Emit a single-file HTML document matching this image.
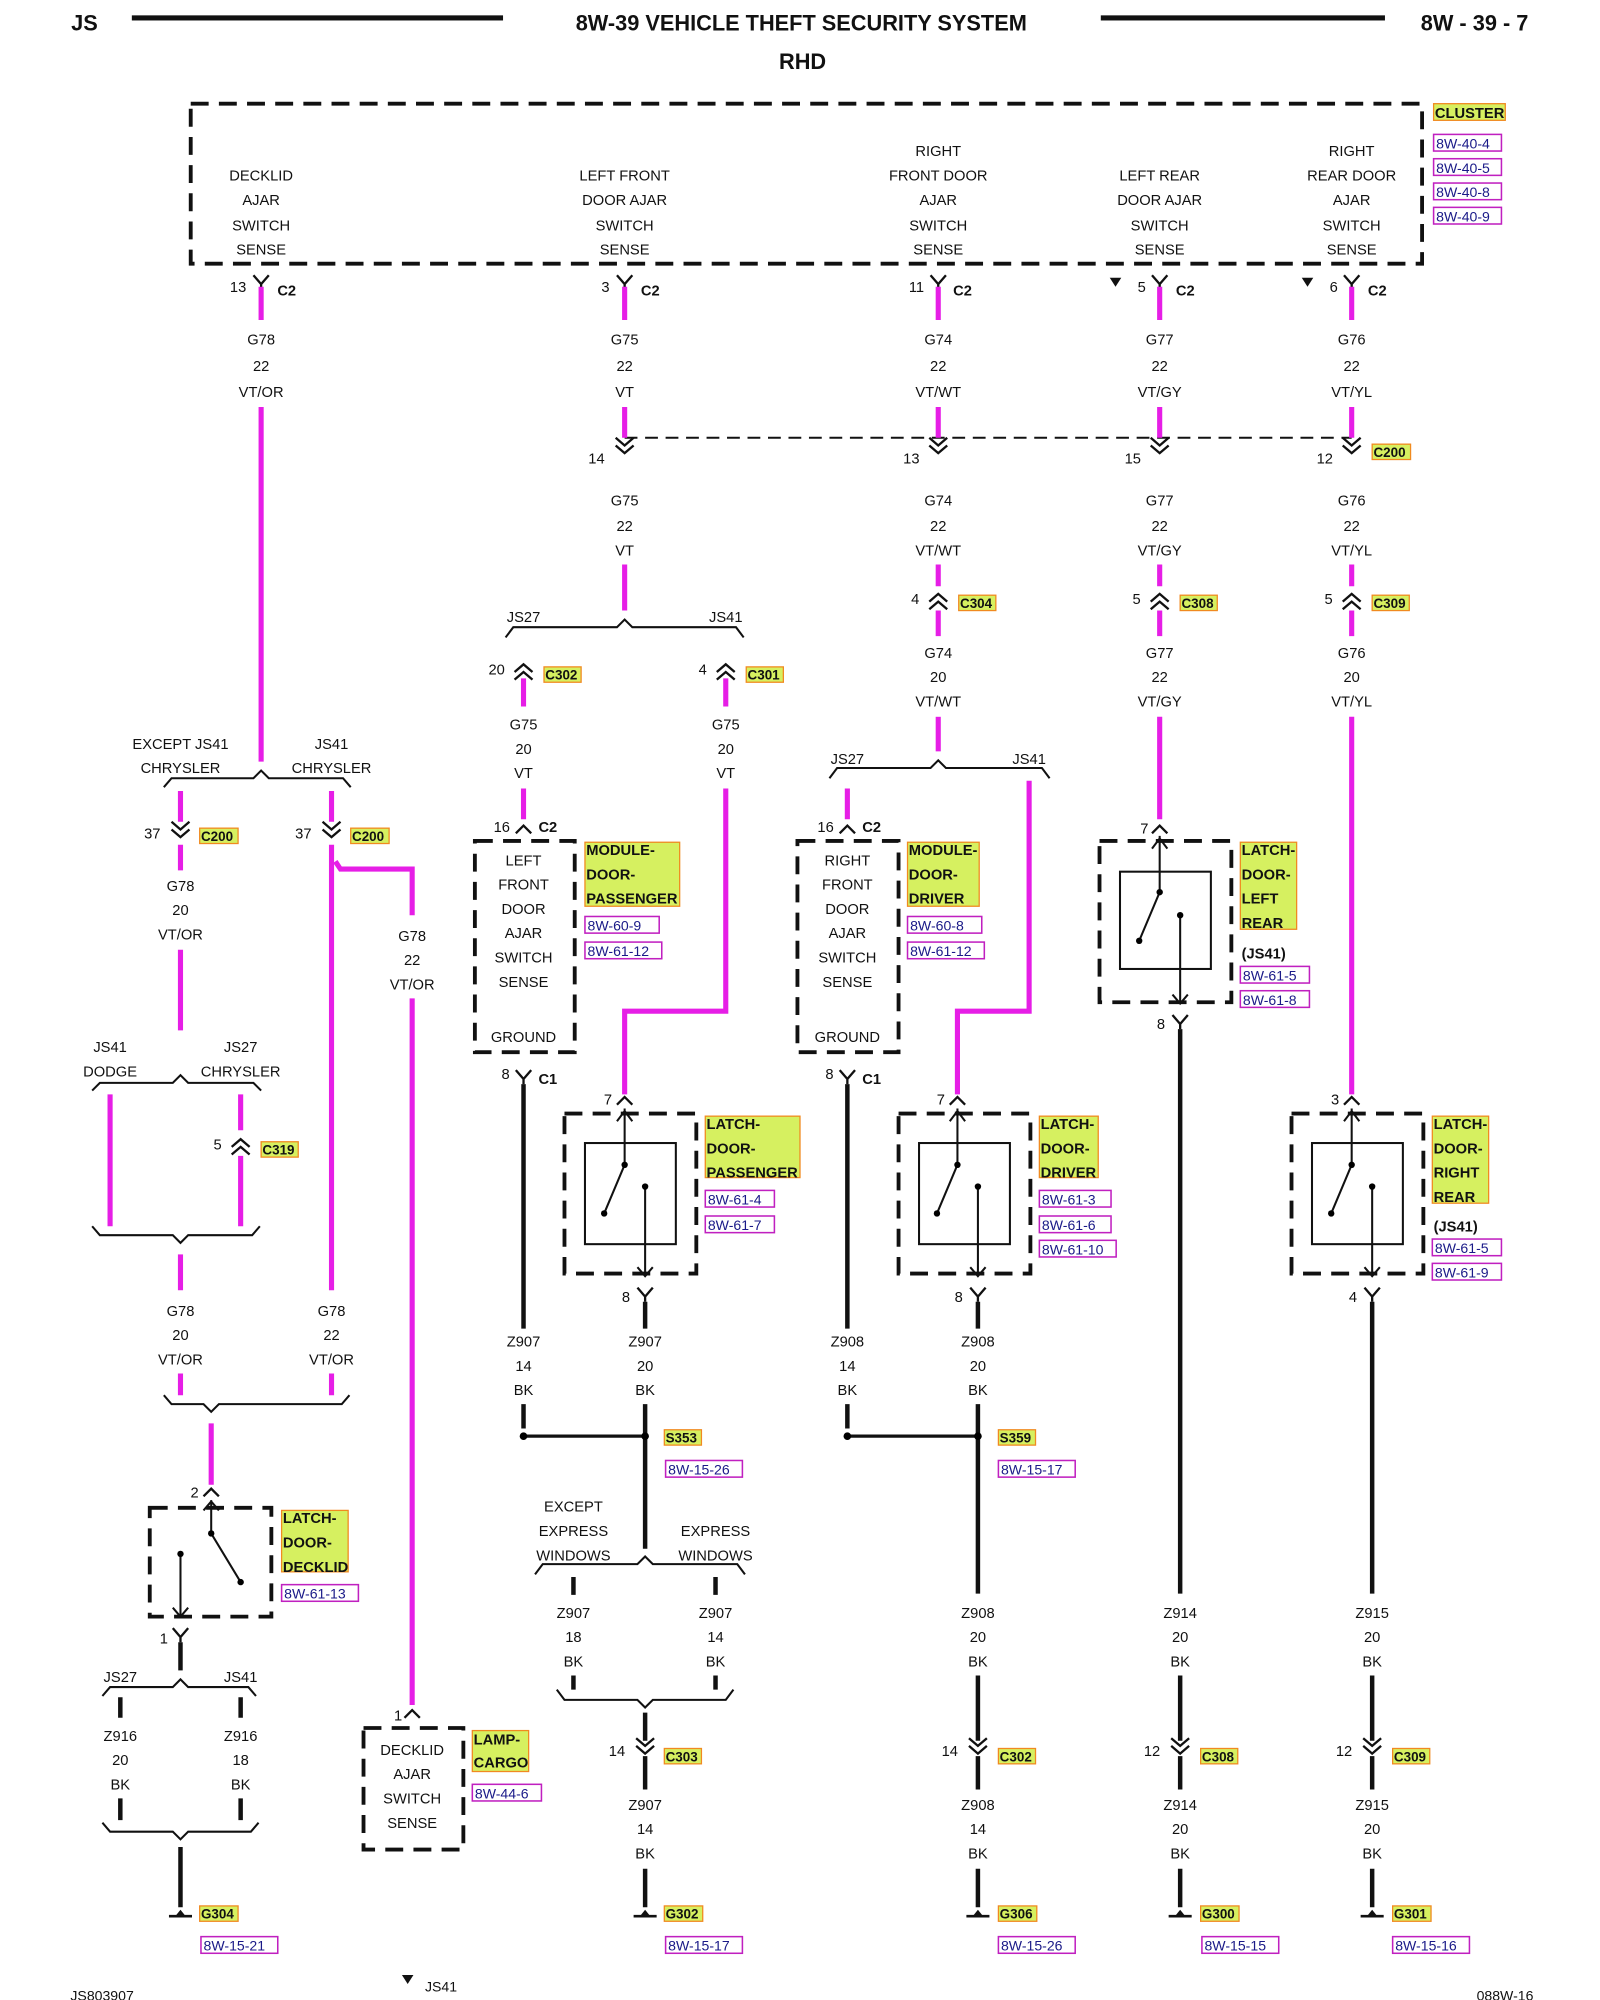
<!DOCTYPE html>
<html><head><meta charset="utf-8"><style>
html,body{margin:0;padding:0;background:#fff}
svg{display:block}
text{font-family:"Liberation Sans",sans-serif;font-size:11.5px;fill:#111;text-anchor:middle}
.b{font-weight:bold}
.l{text-anchor:start}
.t{font-weight:bold;font-size:11.5px;text-anchor:start}
.r{fill:#1a1a88;font-size:11px;text-anchor:start}
.m{stroke:#e61ee6;stroke-width:4;fill:none}
.k{stroke:#111;stroke-width:3.5;fill:none}
.s{stroke:#111;stroke-width:1.6;fill:none}
.d{stroke:#111;stroke-width:3;fill:none;stroke-dasharray:14,8}
.y{fill:#d6f060;stroke:#f08a20;stroke-width:1}
.rb{fill:none;stroke:#c020c0;stroke-width:1.2}
</style></head><body>
<svg width="1600" height="2000" viewBox="0 0 1250 1562.5" preserveAspectRatio="none" xmlns="http://www.w3.org/2000/svg">
<defs>
<path id="dn" d="M-7,-9 L0,-3 L7,-9 M-7,-3 L0,3 L7,-3" stroke="#111" stroke-width="1.8" fill="none"/>
<path id="up" d="M-7,9 L0,3 L7,9 M-7,3 L0,-3 L7,3" stroke="#111" stroke-width="1.8" fill="none"/>
<path id="py" d="M-6,-7 L0,0 L6,-7 M0,0 V4" stroke="#111" stroke-width="1.8" fill="none"/>
<path id="pu" d="M-6,6 L0,0 L6,6" stroke="#111" stroke-width="1.8" fill="none"/>
<g id="gnd"><path d="M-9,0 H9" stroke="#111" stroke-width="2"/><path d="M-4,0 L0,-5 L4,0 Z" fill="#111"/></g>
</defs>

<!-- header -->
<text x="66" y="24" class="b" style="font-size:17px">JS</text>
<rect x="103" y="12" width="290" height="4" fill="#111"/>
<text x="626" y="24" class="b" style="font-size:17px">8W-39 VEHICLE THEFT SECURITY SYSTEM</text>
<rect x="860" y="12" width="222" height="4" fill="#111"/>
<text x="1152" y="24" class="b" style="font-size:17px">8W - 39 - 7</text>
<text x="627" y="54" class="b" style="font-size:17px">RHD</text>

<!-- cluster -->
<rect x="149" y="81" width="962" height="125" class="d"/>
<rect x="1120" y="81" width="56" height="13" class="y"/><text x="1121" y="92" class="t">CLUSTER</text>
<rect x="1120" y="105" width="53" height="13" class="rb"/><text x="1122" y="116" class="r">8W-40-4</text>
<rect x="1120" y="124" width="53" height="13" class="rb"/><text x="1122" y="135" class="r">8W-40-5</text>
<rect x="1120" y="143" width="53" height="13" class="rb"/><text x="1122" y="154" class="r">8W-40-8</text>
<rect x="1120" y="162" width="53" height="13" class="rb"/><text x="1122" y="173" class="r">8W-40-9</text>
<text x="204" y="141">DECKLID</text><text x="204" y="160">AJAR</text><text x="204" y="180">SWITCH</text><text x="204" y="199">SENSE</text>
<text x="488" y="141">LEFT FRONT</text><text x="488" y="160">DOOR AJAR</text><text x="488" y="180">SWITCH</text><text x="488" y="199">SENSE</text>
<text x="733" y="122">RIGHT</text><text x="733" y="141">FRONT DOOR</text><text x="733" y="160">AJAR</text><text x="733" y="180">SWITCH</text><text x="733" y="199">SENSE</text>
<text x="906" y="141">LEFT REAR</text><text x="906" y="160">DOOR AJAR</text><text x="906" y="180">SWITCH</text><text x="906" y="199">SENSE</text>
<text x="1056" y="122">RIGHT</text><text x="1056" y="141">REAR DOOR</text><text x="1056" y="160">AJAR</text><text x="1056" y="180">SWITCH</text><text x="1056" y="199">SENSE</text>

<!-- top pins -->
<use href="#py" x="204" y="222"/><text x="186" y="228">13</text><text x="224" y="231" class="b">C2</text>
<use href="#py" x="488" y="222"/><text x="473" y="228">3</text><text x="508" y="231" class="b">C2</text>
<use href="#py" x="733" y="222"/><text x="716" y="228">11</text><text x="752" y="231" class="b">C2</text>
<use href="#py" x="906" y="222"/><text x="892" y="228">5</text><text x="926" y="231" class="b">C2</text><path d="M867,217 h9 l-4.5,7z" fill="#111"/>
<use href="#py" x="1056" y="222"/><text x="1042" y="228">6</text><text x="1076" y="231" class="b">C2</text><path d="M1017,217 h9 l-4.5,7z" fill="#111"/>
<path class="m" d="M204,224V250 M488,224V250 M733,224V250 M906,224V250 M1056,224V250"/>
<g>
<text x="204" y="269">G78</text><text x="204" y="290">22</text><text x="204" y="310">VT/OR</text>
<text x="488" y="269">G75</text><text x="488" y="290">22</text><text x="488" y="310">VT</text>
<text x="733" y="269">G74</text><text x="733" y="290">22</text><text x="733" y="310">VT/WT</text>
<text x="906" y="269">G77</text><text x="906" y="290">22</text><text x="906" y="310">VT/GY</text>
<text x="1056" y="269">G76</text><text x="1056" y="290">22</text><text x="1056" y="310">VT/YL</text>
</g>

<!-- C200 row -->
<path d="M488,342 H1056" stroke="#111" stroke-width="1.6" stroke-dasharray="10,6"/>
<path class="m" d="M488,318V342 M733,318V342 M906,318V342 M1056,318V342"/>
<use href="#dn" x="488" y="351"/><text x="466" y="362">14</text>
<use href="#dn" x="733" y="351"/><text x="712" y="362">13</text>
<use href="#dn" x="906" y="351"/><text x="885" y="362">15</text>
<use href="#dn" x="1056" y="351"/><text x="1035" y="362">12</text>
<rect x="1072" y="347" width="30" height="12" class="y"/><text x="1073" y="357" class="t" style="font-size:10.5px">C200</text>
<text x="488" y="395">G75</text><text x="488" y="415">22</text><text x="488" y="434">VT</text>
<text x="733" y="395">G74</text><text x="733" y="415">22</text><text x="733" y="434">VT/WT</text>
<text x="906" y="395">G77</text><text x="906" y="415">22</text><text x="906" y="434">VT/GY</text>
<text x="1056" y="395">G76</text><text x="1056" y="415">22</text><text x="1056" y="434">VT/YL</text>
<path class="m" d="M488,441V477 M733,441V458 M906,441V458 M1056,441V458"/>

<!-- C304/C308/C309 -->
<use href="#up" x="733" y="467"/><text x="715" y="472">4</text><rect x="749" y="465" width="29" height="12" class="y"/><text x="750" y="475" class="t" style="font-size:10.5px">C304</text>
<use href="#up" x="906" y="467"/><text x="888" y="472">5</text><rect x="922" y="465" width="29" height="12" class="y"/><text x="923" y="475" class="t" style="font-size:10.5px">C308</text>
<use href="#up" x="1056" y="467"/><text x="1038" y="472">5</text><rect x="1072" y="465" width="29" height="12" class="y"/><text x="1073" y="475" class="t" style="font-size:10.5px">C309</text>
<path class="m" d="M733,477V497 M906,477V497 M1056,477V497"/>
<text x="733" y="514">G74</text><text x="733" y="533">20</text><text x="733" y="552">VT/WT</text>
<text x="906" y="514">G77</text><text x="906" y="533">22</text><text x="906" y="552">VT/GY</text>
<text x="1056" y="514">G76</text><text x="1056" y="533">20</text><text x="1056" y="552">VT/YL</text>

<!-- G75 branch -->
<path class="s" d="M395,498 L401,490 H482 L488,484 L494,490 H575 L581,498"/>
<text x="409" y="486">JS27</text><text x="567" y="486">JS41</text>
<use href="#up" x="409" y="522"/><text x="388" y="527">20</text><rect x="425" y="521" width="29" height="12" class="y"/><text x="426" y="531" class="t" style="font-size:10.5px">C302</text>
<use href="#up" x="567" y="522"/><text x="549" y="527">4</text><rect x="583" y="521" width="29" height="12" class="y"/><text x="584" y="531" class="t" style="font-size:10.5px">C301</text>
<path class="m" d="M409,530V552 M567,530V552"/>
<text x="409" y="570">G75</text><text x="409" y="589">20</text><text x="409" y="608">VT</text>
<text x="567" y="570">G75</text><text x="567" y="589">20</text><text x="567" y="608">VT</text>
<path class="m" d="M409,616V640 M567,616V790 H488 V855"/>

<!-- G74 branch -->
<path class="m" d="M733,560V587"/>
<path class="s" d="M648,608 L654,600 H727 L733,594 L739,600 H814 L820,608"/>
<text x="662" y="597">JS27</text><text x="804" y="597">JS41</text>
<path class="m" d="M662,616V640 M804,610V790 H748 V855"/>
<path class="m" d="M906,560V640 M1056,560V855"/>

<!-- module door passenger -->
<use href="#pu" x="409" y="645"/><text x="392" y="650">16</text><text x="428" y="650" class="b">C2</text>
<rect x="371" y="657" width="78" height="165" class="d"/>
<text x="409" y="676">LEFT</text><text x="409" y="695">FRONT</text><text x="409" y="714">DOOR</text><text x="409" y="733">AJAR</text><text x="409" y="752">SWITCH</text><text x="409" y="771">SENSE</text><text x="409" y="814">GROUND</text>
<rect x="457" y="658" width="74" height="50" class="y"/><text x="458" y="668" class="t">MODULE-</text><text x="458" y="687" class="t">DOOR-</text><text x="458" y="706" class="t">PASSENGER</text>
<rect x="457" y="716" width="58" height="13" class="rb"/><text x="459" y="727" class="r">8W-60-9</text>
<rect x="457" y="736" width="60" height="13" class="rb"/><text x="459" y="747" class="r">8W-61-12</text>
<use href="#py" x="409" y="843"/><text x="395" y="843">8</text><text x="428" y="847" class="b">C1</text>

<!-- module door driver -->
<use href="#pu" x="662" y="645"/><text x="645" y="650">16</text><text x="681" y="650" class="b">C2</text>
<rect x="623" y="657" width="79" height="165" class="d"/>
<text x="662" y="676">RIGHT</text><text x="662" y="695">FRONT</text><text x="662" y="714">DOOR</text><text x="662" y="733">AJAR</text><text x="662" y="752">SWITCH</text><text x="662" y="771">SENSE</text><text x="662" y="814">GROUND</text>
<rect x="709" y="658" width="56" height="50" class="y"/><text x="710" y="668" class="t">MODULE-</text><text x="710" y="687" class="t">DOOR-</text><text x="710" y="706" class="t">DRIVER</text>
<rect x="709" y="716" width="58" height="13" class="rb"/><text x="711" y="727" class="r">8W-60-8</text>
<rect x="709" y="736" width="60" height="13" class="rb"/><text x="711" y="747" class="r">8W-61-12</text>
<use href="#py" x="662" y="843"/><text x="648" y="843">8</text><text x="681" y="847" class="b">C1</text>

<!-- latch door passenger -->
<use href="#pu" x="488" y="857"/><text x="475" y="863">7</text>
<rect x="441" y="870" width="103" height="125" class="d"/>
<rect x="457" y="893" width="71" height="79" class="s"/>
<path class="s" d="M488,866 V910 L472,948 M504,927 V997 M482,876 L488,868 L494,876 M498,990 L504,997 L510,990"/>
<circle cx="488" cy="910" r="2.5"/><circle cx="472" cy="948" r="2.5"/><circle cx="504" cy="927" r="2.5"/>
<rect x="551" y="872" width="74" height="48" class="y"/><text x="552" y="882" class="t">LATCH-</text><text x="552" y="901" class="t">DOOR-</text><text x="552" y="920" class="t">PASSENGER</text>
<rect x="551" y="930" width="54" height="13" class="rb"/><text x="553" y="941" class="r">8W-61-4</text>
<rect x="551" y="950" width="54" height="13" class="rb"/><text x="553" y="961" class="r">8W-61-7</text>
<use href="#py" x="504" y="1013"/><text x="489" y="1017">8</text>

<!-- latch door driver -->
<use href="#pu" x="748" y="857"/><text x="735" y="863">7</text>
<rect x="702" y="870" width="103" height="125" class="d"/>
<rect x="718" y="893" width="71" height="79" class="s"/>
<path class="s" d="M748,866 V910 L732,948 M764,927 V997 M742,876 L748,868 L754,876 M758,990 L764,997 L770,990"/>
<circle cx="748" cy="910" r="2.5"/><circle cx="732" cy="948" r="2.5"/><circle cx="764" cy="927" r="2.5"/>
<rect x="812" y="872" width="46" height="48" class="y"/><text x="813" y="882" class="t">LATCH-</text><text x="813" y="901" class="t">DOOR-</text><text x="813" y="920" class="t">DRIVER</text>
<rect x="812" y="930" width="56" height="13" class="rb"/><text x="814" y="941" class="r">8W-61-3</text>
<rect x="812" y="950" width="56" height="13" class="rb"/><text x="814" y="961" class="r">8W-61-6</text>
<rect x="812" y="969" width="60" height="13" class="rb"/><text x="814" y="980" class="r">8W-61-10</text>
<use href="#py" x="764" y="1013"/><text x="749" y="1017">8</text>

<!-- latch door left rear -->
<use href="#pu" x="906" y="645"/><text x="894" y="651">7</text>
<rect x="859" y="657" width="103" height="126" class="d"/>
<rect x="875" y="681" width="71" height="76" class="s"/>
<path class="s" d="M906,653 V697 L890,735 M922,715 V784 M900,663 L906,655 L912,663 M916,777 L922,784 L928,777"/>
<circle cx="906" cy="697" r="2.5"/><circle cx="890" cy="735" r="2.5"/><circle cx="922" cy="715" r="2.5"/>
<rect x="969" y="658" width="44" height="68" class="y"/><text x="970" y="668" class="t">LATCH-</text><text x="970" y="687" class="t">DOOR-</text><text x="970" y="706" class="t">LEFT</text><text x="970" y="725" class="t">REAR</text>
<text x="970" y="749" class="t">(JS41)</text>
<rect x="969" y="755" width="54" height="13" class="rb"/><text x="971" y="766" class="r">8W-61-5</text>
<rect x="969" y="774" width="54" height="13" class="rb"/><text x="971" y="785" class="r">8W-61-8</text>
<use href="#py" x="922" y="800"/><text x="907" y="804">8</text>

<!-- latch door right rear -->
<use href="#pu" x="1056" y="857"/><text x="1043" y="863">3</text>
<rect x="1009" y="870" width="103" height="125" class="d"/>
<rect x="1025" y="893" width="71" height="79" class="s"/>
<path class="s" d="M1056,866 V910 L1040,948 M1072,927 V997 M1050,876 L1056,868 L1062,876 M1066,990 L1072,997 L1078,990"/>
<circle cx="1056" cy="910" r="2.5"/><circle cx="1040" cy="948" r="2.5"/><circle cx="1072" cy="927" r="2.5"/>
<rect x="1119" y="872" width="44" height="68" class="y"/><text x="1120" y="882" class="t">LATCH-</text><text x="1120" y="901" class="t">DOOR-</text><text x="1120" y="920" class="t">RIGHT</text><text x="1120" y="939" class="t">REAR</text>
<text x="1120" y="962" class="t">(JS41)</text>
<rect x="1119" y="968" width="54" height="13" class="rb"/><text x="1121" y="979" class="r">8W-61-5</text>
<rect x="1119" y="987" width="54" height="13" class="rb"/><text x="1121" y="998" class="r">8W-61-9</text>
<use href="#py" x="1072" y="1013"/><text x="1057" y="1017">4</text>

<!-- black wires lower -->
<path class="k" d="M409,847V1038 M504,1017V1038 M662,847V1038 M764,1017V1038 M922,804V1245 M1072,1017V1245"/>
<text x="409" y="1052">Z907</text><text x="409" y="1071">14</text><text x="409" y="1090">BK</text>
<text x="504" y="1052">Z907</text><text x="504" y="1071">20</text><text x="504" y="1090">BK</text>
<text x="662" y="1052">Z908</text><text x="662" y="1071">14</text><text x="662" y="1090">BK</text>
<text x="764" y="1052">Z908</text><text x="764" y="1071">20</text><text x="764" y="1090">BK</text>
<path class="k" d="M409,1097V1116 M662,1097V1116 M504,1097V1210 M764,1097V1245"/>
<path d="M409,1122H504 M662,1122H764" stroke="#111" stroke-width="2.5"/>
<circle cx="409" cy="1122" r="3"/><circle cx="504" cy="1122" r="3"/><circle cx="662" cy="1122" r="3"/><circle cx="764" cy="1122" r="3"/>
<rect x="519" y="1117" width="29" height="12" class="y"/><text x="520" y="1127" class="t" style="font-size:10.5px">S353</text>
<rect x="520" y="1141" width="60" height="13" class="rb"/><text x="522" y="1152" class="r">8W-15-26</text>
<rect x="780" y="1117" width="29" height="12" class="y"/><text x="781" y="1127" class="t" style="font-size:10.5px">S359</text>
<rect x="780" y="1141" width="60" height="13" class="rb"/><text x="782" y="1152" class="r">8W-15-17</text>

<text x="448" y="1181">EXCEPT</text><text x="448" y="1200">EXPRESS</text><text x="448" y="1219">WINDOWS</text>
<text x="559" y="1200">EXPRESS</text><text x="559" y="1219">WINDOWS</text>
<path class="s" d="M418,1230 L424,1222 H498 L504,1216 L510,1222 H576 L582,1230"/>
<path class="k" d="M448,1232V1246 M559,1232V1246"/>
<text x="448" y="1264">Z907</text><text x="448" y="1283">18</text><text x="448" y="1302">BK</text>
<text x="559" y="1264">Z907</text><text x="559" y="1283">14</text><text x="559" y="1302">BK</text>
<path class="k" d="M448,1309V1320 M559,1309V1320"/>
<path class="s" d="M435,1320 L441,1328 H498 L504,1334 L510,1328 H567 L573,1320"/>
<text x="764" y="1264">Z908</text><text x="764" y="1283">20</text><text x="764" y="1302">BK</text>
<text x="922" y="1264">Z914</text><text x="922" y="1283">20</text><text x="922" y="1302">BK</text>
<text x="1072" y="1264">Z915</text><text x="1072" y="1283">20</text><text x="1072" y="1302">BK</text>
<path class="k" d="M504,1338V1360 M764,1309V1360 M922,1309V1360 M1072,1309V1360"/>
<use href="#dn" x="504" y="1367"/><text x="482" y="1372">14</text><rect x="519" y="1366" width="29" height="12" class="y"/><text x="520" y="1376" class="t" style="font-size:10.5px">C303</text>
<use href="#dn" x="764" y="1367"/><text x="742" y="1372">14</text><rect x="780" y="1366" width="29" height="12" class="y"/><text x="781" y="1376" class="t" style="font-size:10.5px">C302</text>
<use href="#dn" x="922" y="1367"/><text x="900" y="1372">12</text><rect x="938" y="1366" width="29" height="12" class="y"/><text x="939" y="1376" class="t" style="font-size:10.5px">C308</text>
<use href="#dn" x="1072" y="1367"/><text x="1050" y="1372">12</text><rect x="1088" y="1366" width="29" height="12" class="y"/><text x="1089" y="1376" class="t" style="font-size:10.5px">C309</text>
<path class="k" d="M504,1372V1398 M764,1372V1398 M922,1372V1398 M1072,1372V1398"/>
<text x="504" y="1414">Z907</text><text x="504" y="1433">14</text><text x="504" y="1452">BK</text>
<text x="764" y="1414">Z908</text><text x="764" y="1433">14</text><text x="764" y="1452">BK</text>
<text x="922" y="1414">Z914</text><text x="922" y="1433">20</text><text x="922" y="1452">BK</text>
<text x="1072" y="1414">Z915</text><text x="1072" y="1433">20</text><text x="1072" y="1452">BK</text>
<path class="k" d="M504,1460V1490 M764,1460V1490 M922,1460V1490 M1072,1460V1490"/>
<use href="#gnd" x="504" y="1497"/><rect x="519" y="1489" width="30" height="12" class="y"/><text x="520" y="1499" class="t" style="font-size:10.5px">G302</text>
<use href="#gnd" x="764" y="1497"/><rect x="780" y="1489" width="30" height="12" class="y"/><text x="781" y="1499" class="t" style="font-size:10.5px">G306</text>
<use href="#gnd" x="922" y="1497"/><rect x="938" y="1489" width="30" height="12" class="y"/><text x="939" y="1499" class="t" style="font-size:10.5px">G300</text>
<use href="#gnd" x="1072" y="1497"/><rect x="1088" y="1489" width="30" height="12" class="y"/><text x="1089" y="1499" class="t" style="font-size:10.5px">G301</text>
<rect x="520" y="1513" width="60" height="13" class="rb"/><text x="522" y="1524" class="r">8W-15-17</text>
<rect x="780" y="1513" width="60" height="13" class="rb"/><text x="782" y="1524" class="r">8W-15-26</text>
<rect x="939" y="1513" width="60" height="13" class="rb"/><text x="941" y="1524" class="r">8W-15-15</text>
<rect x="1088" y="1513" width="60" height="13" class="rb"/><text x="1090" y="1524" class="r">8W-15-16</text>

<!-- left decklid section -->
<path class="m" d="M204,318V595"/>
<text x="141" y="585">EXCEPT JS41</text><text x="141" y="604">CHRYSLER</text>
<text x="259" y="585">JS41</text><text x="259" y="604">CHRYSLER</text>
<path class="s" d="M128,615 L134,608 H198 L204,602 L210,608 H268 L274,615"/>
<path class="m" d="M141,618V642 M141,660V680 M259,618V642 M259,660V1008 M262,673 L266,679 H322 V715"/>
<use href="#dn" x="141" y="651"/><text x="119" y="655">37</text><rect x="156" y="647" width="30" height="12" class="y"/><text x="157" y="657" class="t" style="font-size:10.5px">C200</text>
<use href="#dn" x="259" y="651"/><text x="237" y="655">37</text><rect x="274" y="647" width="30" height="12" class="y"/><text x="275" y="657" class="t" style="font-size:10.5px">C200</text>
<text x="141" y="696">G78</text><text x="141" y="715">20</text><text x="141" y="734">VT/OR</text>
<text x="322" y="735">G78</text><text x="322" y="754">22</text><text x="322" y="773">VT/OR</text>
<path class="m" d="M141,742V805 M322,780V1332"/>
<text x="86" y="822">JS41</text><text x="86" y="841">DODGE</text>
<text x="188" y="822">JS27</text><text x="188" y="841">CHRYSLER</text>
<path class="s" d="M72,852 L78,846 H135 L141,840 L147,846 H198 L204,852"/>
<path class="m" d="M86,855V958 M188,855V883 M188,903V958"/>
<use href="#up" x="188" y="893"/><text x="170" y="898">5</text><rect x="204" y="892" width="29" height="12" class="y"/><text x="205" y="902" class="t" style="font-size:10.5px">C319</text>
<path class="s" d="M72,958 L78,965 H135 L141,971 L147,965 H197 L203,958"/>
<path class="m" d="M141,980V1008"/>
<text x="141" y="1028">G78</text><text x="141" y="1047">20</text><text x="141" y="1066">VT/OR</text>
<text x="259" y="1028">G78</text><text x="259" y="1047">22</text><text x="259" y="1066">VT/OR</text>
<path class="m" d="M141,1073V1090 M259,1073V1090 M165,1112V1160"/>
<path class="s" d="M128,1090 L134,1097 H159 L165,1103 L171,1097 H267 L273,1090"/>
<use href="#pu" x="165" y="1163"/><text x="152" y="1170">2</text>
<rect x="117" y="1178" width="95" height="85" class="d"/>
<path class="s" d="M165,1172 V1198 L188,1236 M141,1214 V1262 M159,1180 L165,1173 L171,1180 M135,1256 L141,1263 L147,1256"/>
<circle cx="165" cy="1198" r="2.5"/><circle cx="188" cy="1236" r="2.5"/><circle cx="141" cy="1214" r="2.5"/>
<rect x="220" y="1180" width="52" height="48" class="y"/><text x="221" y="1190" class="t">LATCH-</text><text x="221" y="1209" class="t">DOOR-</text><text x="221" y="1228" class="t">DECKLID</text>
<rect x="220" y="1238" width="60" height="13" class="rb"/><text x="222" y="1249" class="r">8W-61-13</text>
<use href="#py" x="141" y="1279"/><text x="128" y="1284">1</text>
<path class="k" d="M141,1283V1305"/>
<text x="94" y="1314">JS27</text><text x="188" y="1314">JS41</text>
<path class="s" d="M80,1325 L86,1318 H135 L141,1312 L147,1318 H194 L200,1325"/>
<path class="k" d="M94,1326V1342 M188,1326V1342"/>
<text x="94" y="1360">Z916</text><text x="94" y="1379">20</text><text x="94" y="1398">BK</text>
<text x="188" y="1360">Z916</text><text x="188" y="1379">18</text><text x="188" y="1398">BK</text>
<path class="k" d="M94,1405V1422 M188,1405V1422"/>
<path class="s" d="M80,1424 L86,1431 H135 L141,1437 L147,1431 H196 L202,1424"/>
<path class="k" d="M141,1443V1490"/>
<use href="#gnd" x="141" y="1497"/><rect x="156" y="1489" width="30" height="12" class="y"/><text x="157" y="1499" class="t" style="font-size:10.5px">G304</text>
<rect x="157" y="1513" width="60" height="13" class="rb"/><text x="159" y="1524" class="r">8W-15-21</text>

<!-- lamp cargo -->
<use href="#pu" x="322" y="1336"/><text x="311" y="1344">1</text>
<rect x="284" y="1350" width="78" height="95" class="d"/>
<text x="322" y="1371">DECKLID</text><text x="322" y="1390">AJAR</text><text x="322" y="1409">SWITCH</text><text x="322" y="1428">SENSE</text>
<rect x="369" y="1352" width="44" height="32" class="y"/><text x="370" y="1363" class="t">LAMP-</text><text x="370" y="1381" class="t">CARGO</text>
<rect x="369" y="1394" width="54" height="13" class="rb"/><text x="371" y="1405" class="r">8W-44-6</text>

<!-- footer -->
<text x="55" y="1563" class="l" style="font-size:11px">JS803907</text>
<path d="M314,1543 h9 l-4.5,7z" fill="#111"/><text x="332" y="1556" class="l" style="font-size:11px">JS41</text>
<text x="1198" y="1563" style="text-anchor:end;font-size:11px">088W-16</text>
</svg>
</body></html>
